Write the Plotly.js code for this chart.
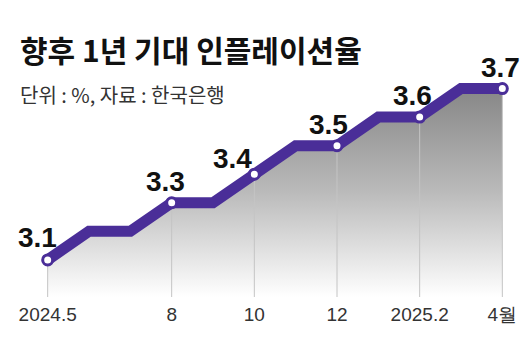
<!DOCTYPE html>
<html><head><meta charset="utf-8">
<script src="https://cdn.plot.ly/plotly-3.0.1.min.js"></script>
<style>html,body{margin:0;padding:0;background:#fff}#c{width:530px;height:351px}</style>
</head><body><div id="c"></div>
<script>
const months = ['2024.5','2024.6','2024.7','2024.8','2024.9','2024.10','2024.11','2024.12','2025.1','2025.2','2025.3','2025.4'];
const values = [3.1,3.2,3.2,3.3,3.3,3.4,3.5,3.5,3.6,3.6,3.7,3.7];
const tickMonths = ['2024.5','2024.8','2024.10','2024.12','2025.2','2025.4'];
const tickLabels = ['2024.5','8','10','12','2025.2','4월'];
const titleText = '향후 1년 기대 인플레이션율';
const subtitleText = '단위 : %, 자료 : 한국은행';

const baseY = 2.97;
const purple = '#4a2e98';
const tickIdx = tickMonths.map(m => months.indexOf(m));
const tickValues = tickIdx.map(i => values[i]);
const labelShift = [[-10,22],[-6,21],[-22,16],[-9,21],[-7,22],[-2,21]];

const guideX = [], guideY = [];
tickIdx.forEach((i,k) => { guideX.push(i, i, null); guideY.push(baseY, tickValues[k], null); });

const xIdx = months.map((m,i) => i);

const traces = [
  {x: xIdx, y: values, type:'scatter', mode:'lines', fill:'tozeroy',
   fillgradient:{type:'vertical', start: baseY, stop: 3.72,
     colorscale:[[0,'rgba(255,255,255,1)'],[0.5,'#b9b9b9'],[1,'#848484']]},
   line:{color:'rgba(0,0,0,0)', width:0}, hoverinfo:'skip'},
  {x: guideX, y: guideY, type:'scatter', mode:'lines', connectgaps:false,
   line:{color:'#c4c4c4', width:1}, hoverinfo:'skip'},
  {x: xIdx, y: values, type:'scatter', mode:'lines',
   line:{color: purple, width: 11, shape:'linear'}, hoverinfo:'skip'},
  {x: tickIdx, y: tickValues, type:'scatter', mode:'markers',
   marker:{color:'#fff', size:10, line:{color: purple, width:3}}, hoverinfo:'skip'}
];

const annotations = tickIdx.map((i,k) => ({x:i, y:tickValues[k], xref:'x', yref:'y',
  text: '<b>' + tickValues[k].toFixed(1) + '</b>', showarrow:false,
  xshift: labelShift[k][0], yshift: labelShift[k][1],
  font:{family:'Liberation Sans Narrow, Arial Narrow, sans-serif', size:28, color:'#111'}}));

annotations.push({xref:'paper', yref:'paper', x: -9/496, y: (297-49)/237, xanchor:'left', yanchor:'middle',
  text:'<b>'+titleText+'</b>', showarrow:false,
  font:{family:'Noto Sans CJK KR, sans-serif', size:30, color:'#111'}});
annotations.push({xref:'paper', yref:'paper', x: -9/496, y: (297-94)/237, xanchor:'left', yanchor:'middle',
  text: subtitleText, showarrow:false,
  font:{family:'Noto Sans CJK KR, sans-serif', size:20, color:'#333'}});

const layout = {
  width:530, height:351,
  margin:{l:27, r:7, t:60, b:54},
  paper_bgcolor:'#fff', plot_bgcolor:'#fff',
  showlegend:false,
  xaxis:{type:'linear', range:[-0.5, 11.5], tickvals: tickIdx, ticktext: tickLabels,
    showgrid:false, zeroline:false, showline:false, ticks:'', ticklabelstandoff:4,
    tickfont:{family:'Liberation Sans, Arial, sans-serif', size:19, color:'#333'}},
  yaxis:{range:[baseY, 3.80], visible:false, showgrid:false, zeroline:false},
  annotations
};
Plotly.newPlot('c', traces, layout, {displayModeBar:false, staticPlot:true});
</script></body></html>
